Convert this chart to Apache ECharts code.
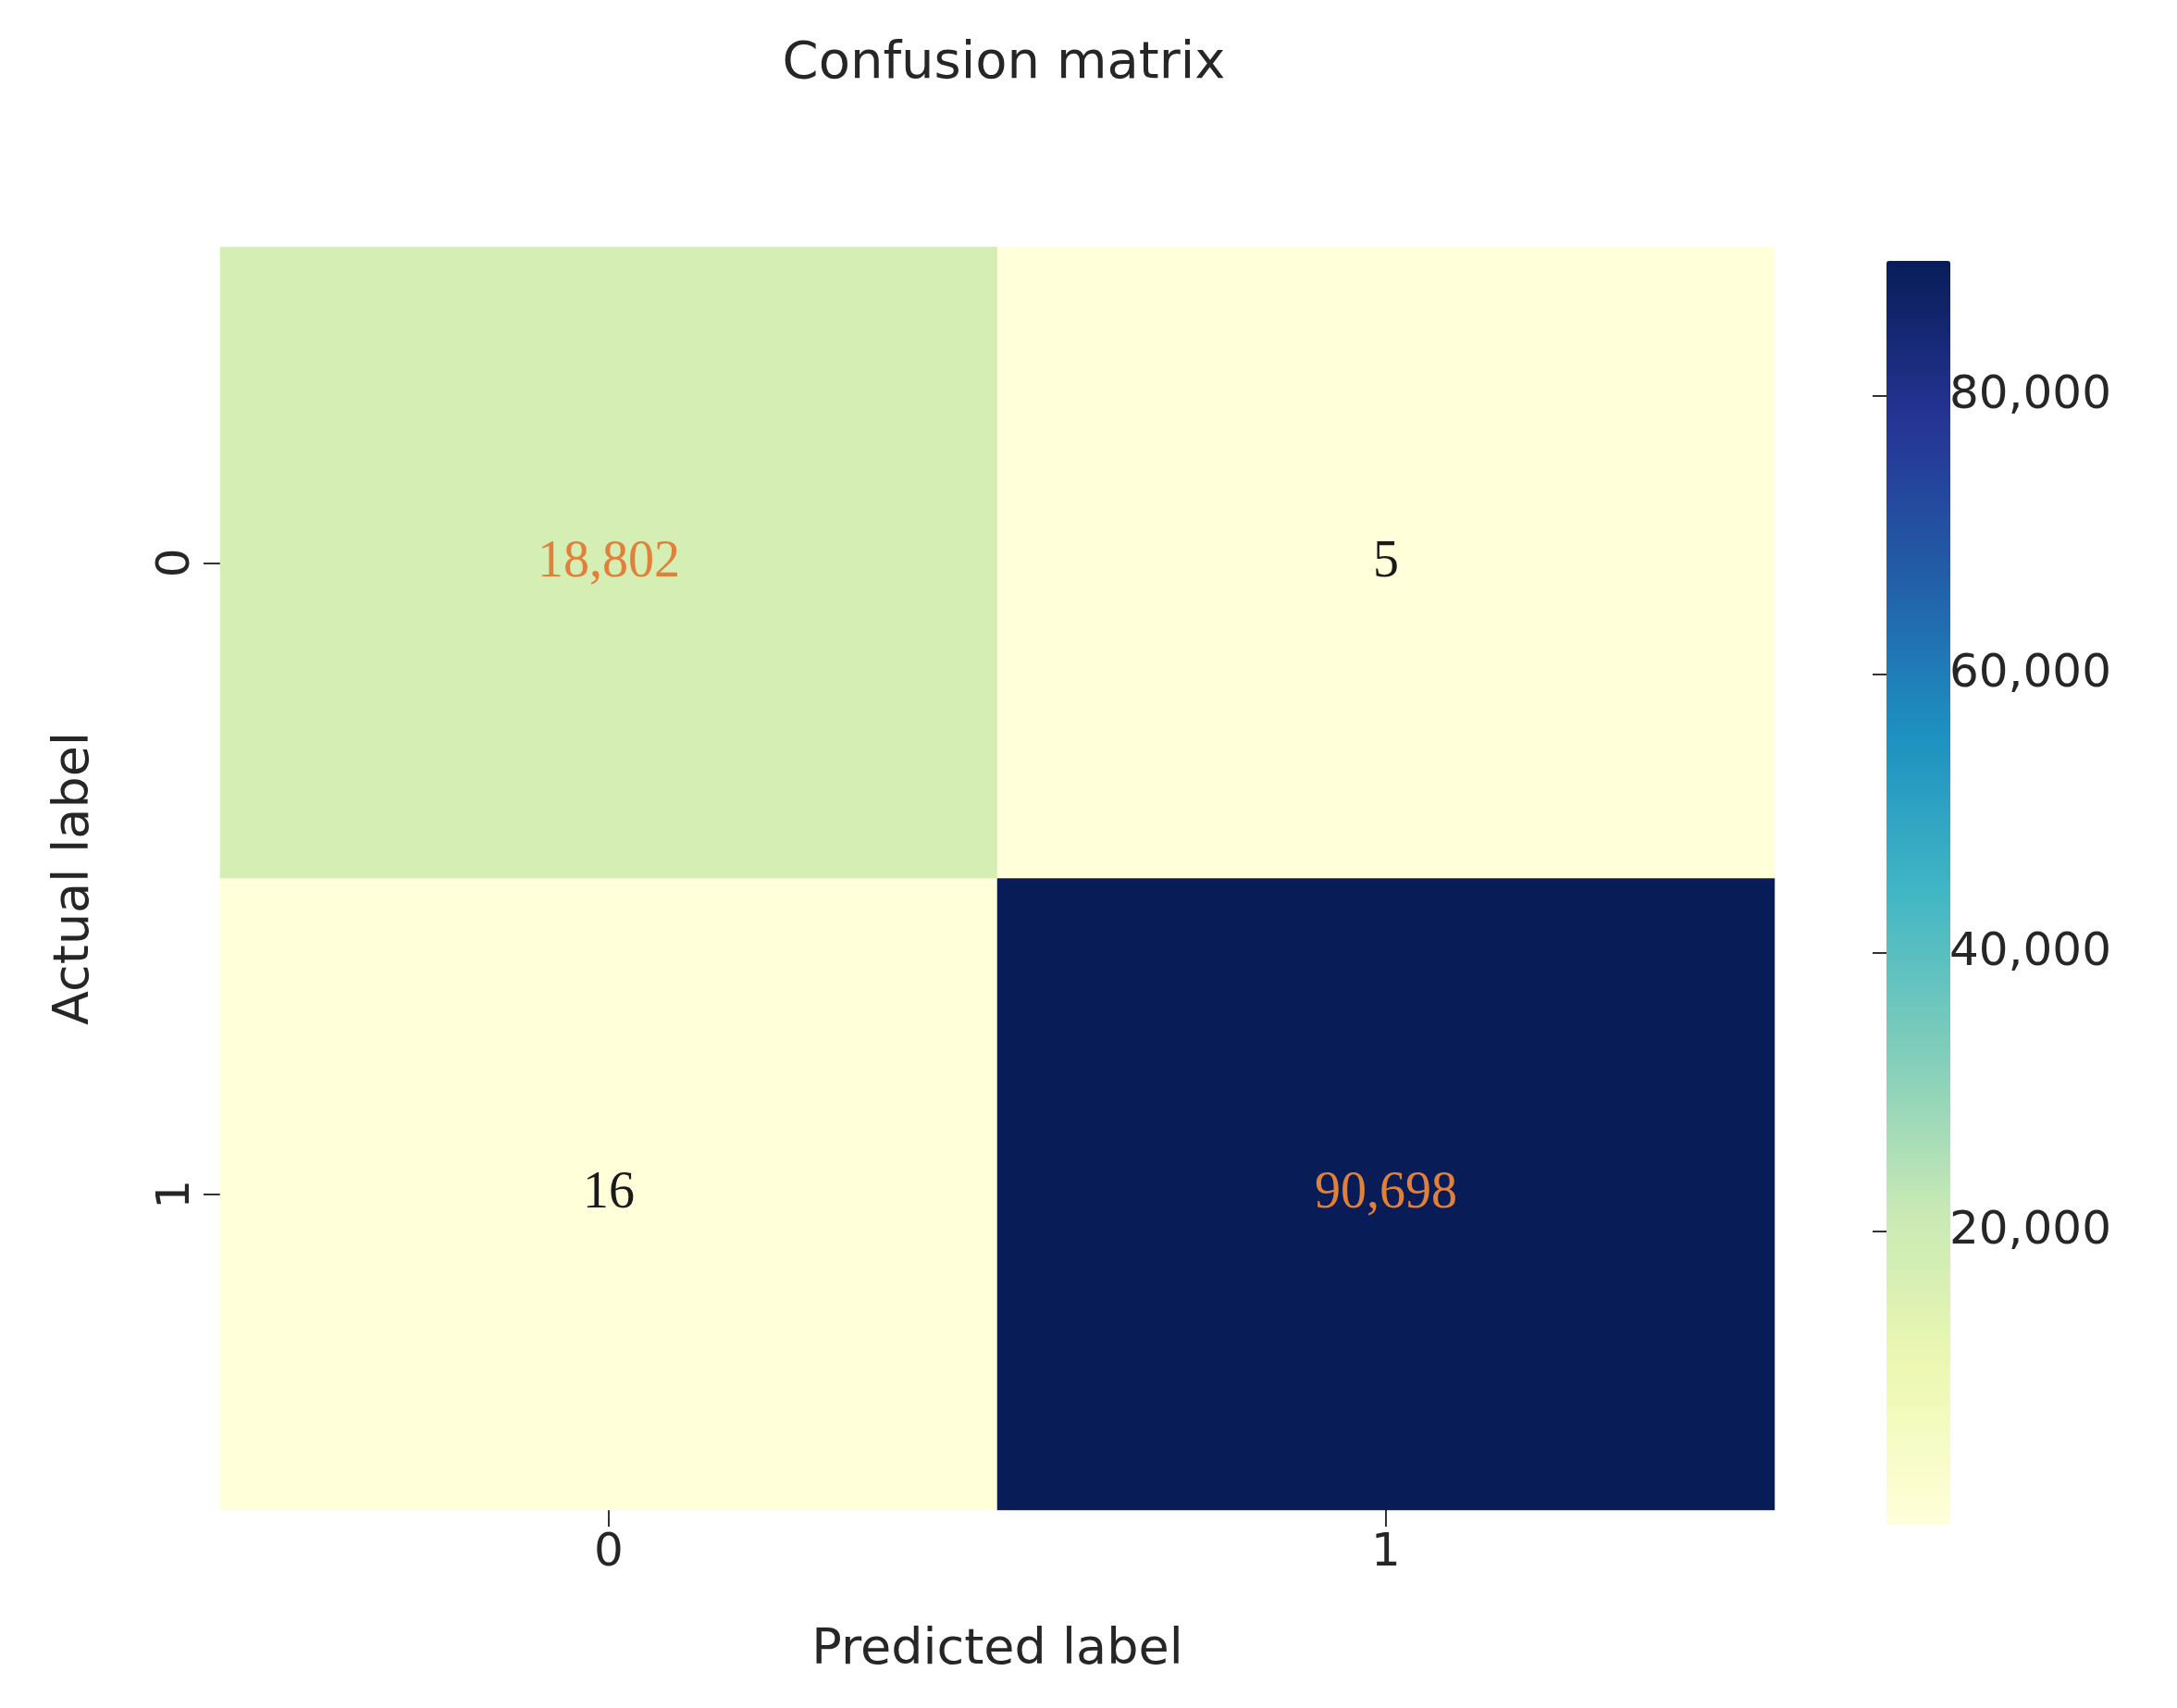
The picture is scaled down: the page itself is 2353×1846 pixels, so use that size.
<!DOCTYPE html>
<html><head><meta charset="utf-8">
<script src="https://cdn.jsdelivr.net/npm/echarts@6/dist/echarts.min.js"></script>
<style>html,body{margin:0;padding:0;background:#fff}#c{width:2353px;height:1846px}</style>
</head><body><div id="c"></div>
<script>
const xCategories = ['0','1'];
const yCategories = ['0','1'];
// [x, y, value]
const cells = [[0,0,18802],[1,0,5],[0,1,16],[1,1,90698]];
const colorbarTicks = [20000,40000,60000,80000];
const vmin = 5, vmax = 90698;
const ylgnbu = ['#ffffd9','#edf8b1','#c7e9b4','#7fcdbb','#41b6c4','#1d91c0','#225ea8','#253494','#081d58'];
const sans = 'DejaVu Sans';
const chart = echarts.init(document.getElementById('c'));
chart.setOption({
  backgroundColor:'#fff',
  animation:false,
  title:{text:'Confusion matrix',left:1080,top:36,textAlign:'center',textStyle:{fontFamily:sans,fontWeight:'normal',fontSize:56,color:'#262626'}},
  grid:[{left:238,top:267,width:1680,height:1365},{left:2024,top:267,width:69,height:1365}],
  xAxis:[{type:'category',data:xCategories,gridIndex:0,axisLine:{show:false},
    axisTick:{show:true,alignWithLabel:true,length:18,lineStyle:{color:'#333',width:2}},
    axisLabel:{fontFamily:sans,fontSize:50,color:'#262626',margin:22},
    name:'Predicted label',nameLocation:'middle',nameGap:125,nameTextStyle:{fontFamily:sans,fontSize:54,color:'#262626'}},
    {type:'value',gridIndex:1,show:false,min:0,max:1}],
  yAxis:[{type:'category',data:yCategories,inverse:true,gridIndex:0,axisLine:{show:false},
    axisTick:{show:true,alignWithLabel:true,length:18,lineStyle:{color:'#333',width:2}},
    axisLabel:{fontFamily:sans,fontSize:50,color:'#262626',rotate:90,margin:22},
    name:'Actual label',nameLocation:'middle',nameGap:130,nameTextStyle:{fontFamily:sans,fontSize:54,color:'#262626'}},
    {type:'value',gridIndex:1,position:'right',min:vmin,max:vmax,splitLine:{show:false},axisLine:{show:false},
    axisTick:{show:true,length:18,customValues:colorbarTicks,lineStyle:{color:'#333',width:2}},
    axisLabel:{fontFamily:sans,fontSize:50,color:'#262626',margin:14,customValues:colorbarTicks}}],
  visualMap:{min:vmin,max:vmax,calculable:false,seriesIndex:0,orient:'vertical',left:2024,top:267,
    itemWidth:69,itemHeight:1365,text:['',''],showLabel:false,inRange:{color:ylgnbu}},
  series:[{type:'heatmap',xAxisIndex:0,yAxisIndex:0,
    data:cells.map(c=>({value:c,label:{color:(c[2]>1000?'#e0803a':'#1a1a1a')}})),
    label:{show:true,fontFamily:'Liberation Serif',fontSize:56,formatter:p=>p.value[2].toLocaleString('en-US')}}]
});
</script></body></html>
